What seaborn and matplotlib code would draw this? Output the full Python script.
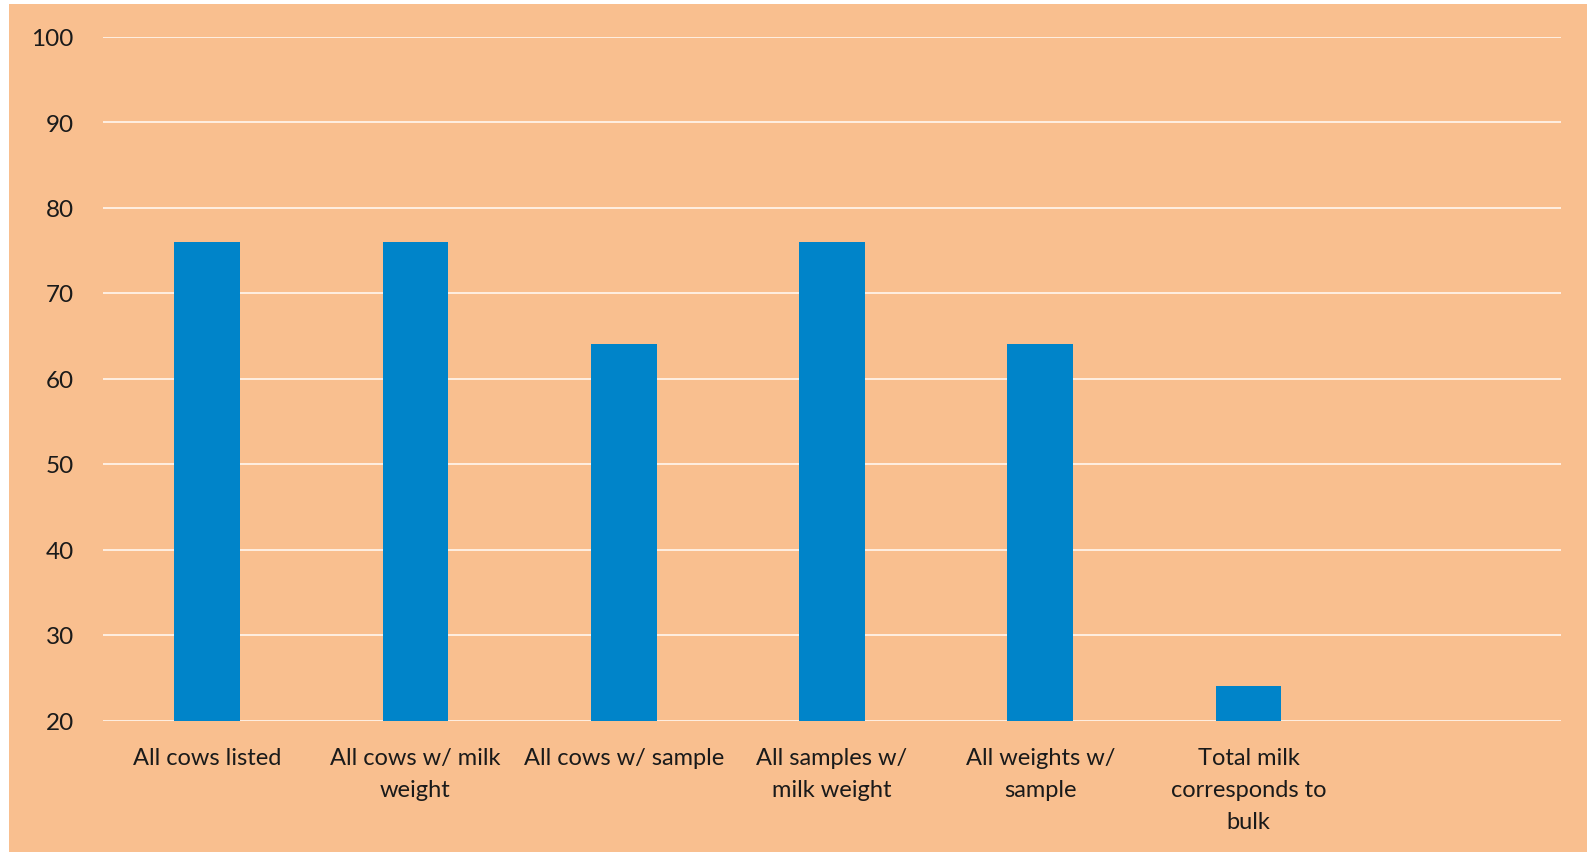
import matplotlib
matplotlib.use("Agg")
import matplotlib.pyplot as plt
from matplotlib.patches import Rectangle
import pandas as pd
import seaborn as sns

categories = ["All cows listed", "All cows w/ milk\nweight", "All cows w/ sample",
              "All samples w/\nmilk weight", "All weights w/\nsample",
              "Total milk\ncorresponds to\nbulk"]
values = [76, 76, 64, 76, 64, 24]
slots = categories + [" "]  # empty seventh slot on the axis
y_ticks = [20, 30, 40, 50, 60, 70, 80, 90, 100]

BG = "#F9BF8F"
BAR = "#0084C9"

sns.set_theme(style="white")
plt.rcParams["font.family"] = ["Lato", "DejaVu Sans"]

df = pd.DataFrame({"category": categories, "value": [v - 20 for v in values]})

fig = plt.figure(figsize=(15.87, 8.53), dpi=100, facecolor="white")
fig.patches.append(Rectangle((9 / 1587, 0), 1, 1 - 5 / 853, transform=fig.transFigure,
                             facecolor=BG, edgecolor="none", zorder=-10))
ax = fig.add_axes([103 / 1587, 1 - 721.5 / 853, 1458 / 1587, 684 / 853])
ax.set_facecolor("none")

sns.barplot(data=df, x="category", y="value", order=slots, color=BAR,
            width=0.316, saturation=1, bottom=20, linewidth=0, ax=ax)

ax.set_ylim(20, 100)
ax.set_xlim(-0.5, len(slots) - 0.5)
ax.set_yticks(y_ticks)
ax.yaxis.grid(True, color="#FFF3E8", linewidth=1.3)
ax.set_axisbelow(True)
for s in ax.spines.values():
    s.set_visible(False)
ax.set_xlabel("")
ax.set_ylabel("")
ax.tick_params(axis="y", length=0, pad=21, labelsize=17.5, labelcolor="#1a1a1a")
ax.tick_params(axis="x", length=0, pad=19, labelsize=17, labelcolor="#1a1a1a")
for lab in ax.get_xticklabels():
    lab.set_linespacing(1.66)
    lab.set_multialignment("center")

fig.savefig("out.png", dpi=100, facecolor=fig.get_facecolor())
